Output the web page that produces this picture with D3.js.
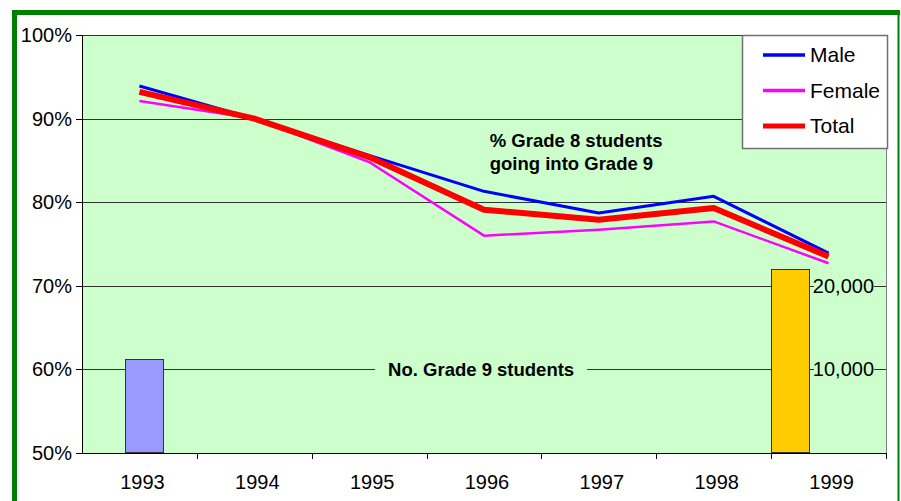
<!DOCTYPE html>
<html lang="en">
<head>
<meta charset="UTF-8">
<title>Grade 8 to Grade 9</title>
<style>
    body { margin: 0; background: #fff; font-family: 'Liberation Sans', Arial, sans-serif; }
    .axis text { font-size: 20px; fill: #000; font-family: 'Liberation Sans', Arial, sans-serif; }
    .axis path, .axis line { stroke: #000; shape-rendering: crispEdges; }
    .grid line { stroke: #333; shape-rendering: crispEdges; }
    .note { font-size: 18.5px; font-weight: bold; }
</style>
</head>
<body>
<div id="chart"></div>
<script src="https://cdn.jsdelivr.net/npm/d3@7"></script>
<script>
    var years = ["1993", "1994", "1995", "1996", "1997", "1998", "1999"];
    var male = [0.939, 0.900, 0.856, 0.813, 0.787, 0.807, 0.739];
    var female = [0.921, 0.900, 0.848, 0.760, 0.767, 0.777, 0.727];
    var total = [0.932, 0.900, 0.854, 0.791, 0.779, 0.793, 0.735];

    var barYears = ["1993", "1999"];
    var barValues = [11300, 22000];
    var barSlots = ["b", "a"];
    var barColors = ["#9999FF", "#FFCC00"];

    var yTicks = [0.5, 0.6, 0.7, 0.8, 0.9, 1.0];
    var y2Ticks = [10000, 20000];

    var seriesNames = ["Male", "Female", "Total"];
    var seriesColors = ["#0000FF", "#FF00FF", "#FF0000"];
    var seriesWidths = [3, 2.5, 6];

    var W = 901, H = 501;
    var margin = {top: 35, right: 15, bottom: 48, left: 82};
    var width = W - margin.left - margin.right,
        height = H - margin.top - margin.bottom;

    var svg = d3.select("#chart").append("svg")
        .attr("width", W)
        .attr("height", H);

    // green frame
    svg.append("line").attr("x1", 14.5).attr("x2", 14.5).attr("y1", 10).attr("y2", H)
        .attr("stroke", "#008000").attr("stroke-width", 5);
    svg.append("line").attr("x1", 12).attr("x2", 900).attr("y1", 12.5).attr("y2", 12.5)
        .attr("stroke", "#008000").attr("stroke-width", 5);
    svg.append("line").attr("x1", 898.5).attr("x2", 898.5).attr("y1", 10).attr("y2", H)
        .attr("stroke", "#008000").attr("stroke-width", 2);

    var g = svg.append("g")
        .attr("transform", "translate(" + margin.left + "," + margin.top + ")");

    var x = d3.scaleBand().domain(years).range([0, width]);
    var xSub = d3.scaleBand().domain(["a", "b", "c"]).range([0, x.bandwidth()]);
    var y = d3.scaleLinear().domain([0.5, 1]).range([height, 0]);
    var y2 = d3.scaleLinear().domain([0, 50000]).range([height, 0]);

    g.append("rect")
        .attr("width", width)
        .attr("height", height)
        .attr("fill", "#CCFFCC");

    g.append("g")
        .attr("class", "grid")
        .selectAll("line")
        .data(yTicks.slice(1))
        .enter().append("line")
        .attr("x1", 0).attr("x2", width)
        .attr("y1", function (d) { return Math.round(y(d)) + 0.5; })
        .attr("y2", function (d) { return Math.round(y(d)) + 0.5; });

    // right plot edge
    g.append("line")
        .attr("x1", width + 0.5).attr("x2", width + 0.5)
        .attr("y1", 0).attr("y2", height)
        .attr("stroke", "#808080");

    // bars (secondary axis)
    g.selectAll(".bar")
        .data(barValues)
        .enter().append("rect")
        .attr("class", "bar")
        .attr("x", function (d, i) { return Math.round(x(barYears[i]) + xSub(barSlots[i]) * 1.13) + 0.5; })
        .attr("y", function (d) { return Math.round(y2(d)) + 0.5; })
        .attr("width", Math.round(xSub.bandwidth()))
        .attr("height", function (d) { return Math.round(height - y2(d)) - 1; })
        .attr("fill", function (d, i) { return barColors[i]; })
        .attr("stroke", "#333")
        .attr("stroke-width", 1);

    // secondary axis labels with background
    var r = g.selectAll(".r2")
        .data(y2Ticks)
        .enter().append("g")
        .attr("transform", function (d) { return "translate(" + (width - 12) + "," + y2(d) + ")"; });
    r.append("rect")
        .attr("x", -60).attr("y", -10).attr("width", 60).attr("height", 20)
        .attr("fill", "#CCFFCC");
    r.append("text")
        .attr("text-anchor", "end")
        .attr("dy", "0.35em")
        .attr("font-size", 20)
        .text(function (d) { return d3.format(",")(d); });

    // notes
    var n1x = x("1996") + x.bandwidth() * 0.55;
    var note1 = g.append("text")
        .attr("class", "note")
        .attr("x", n1x)
        .attr("y", y(0.866));
    note1.append("tspan").text("% Grade 8 students");
    note1.append("tspan").attr("x", n1x).attr("dy", 22.5).text("going into Grade 9");

    var note2 = g.append("g")
        .attr("transform", "translate(" + (x("1996") + x.bandwidth() * 0.475) + "," + y(0.6) + ")");
    note2.append("rect")
        .attr("x", -106).attr("y", -12).attr("width", 212).attr("height", 24)
        .attr("fill", "#CCFFCC");
    note2.append("text")
        .attr("class", "note")
        .attr("text-anchor", "middle")
        .attr("dy", "0.35em")
        .text("No. Grade 9 students");

    // lines
    var line = d3.line()
        .x(function (d, i) { return x(years[i]) + x.bandwidth() / 2; })
        .y(function (d) { return y(d); });

    [male, female, total].forEach(function (s, i) {
        g.append("path")
            .datum(s)
            .attr("fill", "none")
            .attr("stroke", seriesColors[i])
            .attr("stroke-width", seriesWidths[i])
            .attr("stroke-linejoin", "round")
            .attr("d", line);
    });

    // axes
    g.append("g")
        .attr("class", "axis")
        .call(d3.axisLeft(y).tickValues(yTicks).tickFormat(d3.format(".0%")).tickSizeOuter(0).tickSize(6).tickPadding(4));

    var xAxis = g.append("g")
        .attr("class", "axis")
        .attr("transform", "translate(0," + height + ")")
        .call(d3.axisBottom(x).tickSize(0).tickPadding(22));
    xAxis.selectAll(".tick text").attr("dx", 3);
    xAxis.select(".domain").attr("d", "M0.5,0H" + width);
    xAxis.selectAll(".bound")
        .data(years)
        .enter().append("line")
        .attr("x1", function (d) { return Math.round(x(d) + x.bandwidth()) + 0.5; })
        .attr("x2", function (d) { return Math.round(x(d) + x.bandwidth()) + 0.5; })
        .attr("y1", 0).attr("y2", 6)
        .attr("stroke", "#000");

    // legend
    var lg = svg.append("g").attr("transform", "translate(742,35)");
    lg.append("rect")
        .attr("x", 0.5).attr("y", 0.5).attr("width", 145).attr("height", 113)
        .attr("fill", "#fff").attr("stroke", "#707070").attr("stroke-width", 1.5);
    var item = lg.selectAll(".item")
        .data(seriesNames)
        .enter().append("g")
        .attr("transform", function (d, i) { return "translate(0," + (20 + i * 35.5) + ")"; });
    item.append("line")
        .attr("x1", 21).attr("x2", 63)
        .attr("stroke", function (d, i) { return seriesColors[i]; })
        .attr("stroke-width", function (d, i) { return i === 2 ? 5 : 3.5; });
    item.append("text")
        .attr("x", 68)
        .attr("dy", "0.35em")
        .attr("font-size", 21)
        .text(function (d) { return d; });
</script>
</body>
</html>
